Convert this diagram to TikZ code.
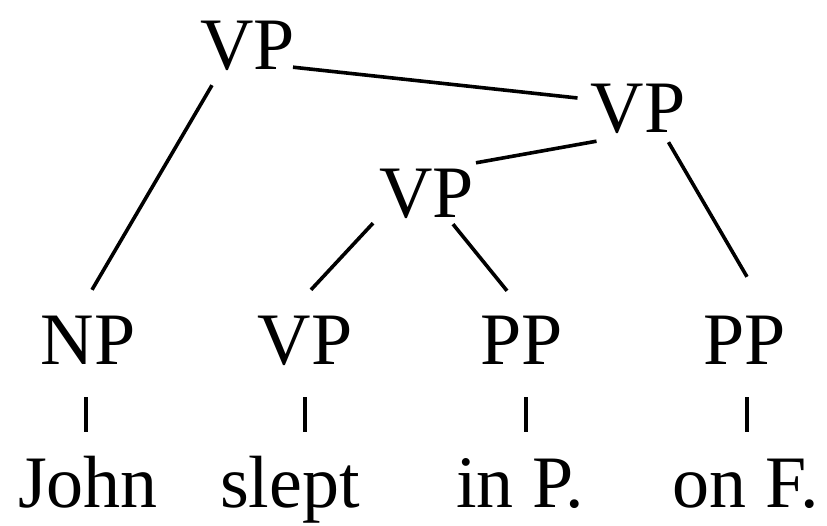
\documentclass[tikz,border=0pt]{standalone}
\usepackage{fontspec}
\setmainfont{Liberation Serif}
\usepackage{tikz}
\usetikzlibrary{positioning}

\begin{document}
\begin{tikzpicture}[
  x=1pt, y=1pt,
  cat/.style={inner sep=0pt, text height=48pt, text depth=0pt, anchor=base, font=\fontsize{74}{80}\selectfont},
  branch/.style={line width=3.6pt},
  tick/.style={line width=3.6pt, shorten <=32pt, shorten >=27pt}
]
\useasboundingbox (0,0) rectangle (827,525);
% inner nodes
\node[cat] (top) at (247.5,455) {VP};
\node[cat] (vpb) at (638,392) {VP};
\node[cat] (vpc) at (426.5,307) {VP};
% phrase level
\node[cat] (np)  at (88,160)  {NP};
\node[cat] (vpl) at (305,160) {VP};
\node[cat] (ppa) at (522,160) {PP};
\node[cat] (ppb) at (745,160) {PP};
% words
\node[cat] (john)  at (88,18)  {John};
\node[cat] (slept) at (290,18) {slept};
\node[cat] (inp)   at (520,18) {in P.};
\node[cat] (onf)   at (746,18) {on F.};
% branches
\draw[branch] ([xshift=-2pt,yshift=3pt]top.south east) -- ([xshift=-13pt,yshift=11pt]vpb.west);
\draw[branch] ([xshift=12pt,yshift=-15pt]top.south west) -- ([xshift=4pt,yshift=27pt]np.north);
\draw[branch] ([xshift=6pt,yshift=-8pt]vpb.south west) -- ([xshift=2pt,yshift=7pt]vpc.north east);
\draw[branch] ([xshift=-17pt,yshift=-9pt]vpb.south east) -- ([xshift=2pt,yshift=40pt]ppb.north);
\draw[branch] ([xshift=-6pt,yshift=-5pt]vpc.south west) -- ([xshift=6pt,yshift=27pt]vpl.north);
\draw[branch] ([xshift=-21pt,yshift=-6pt]vpc.south east) -- ([xshift=-15pt,yshift=26pt]ppa.north);
% ticks to the words
\draw[tick] ([xshift=-2pt]np.south) -- ([xshift=-2pt]np.south |- john.north);
\draw[tick] (vpl.south) -- (vpl.south |- slept.north);
\draw[tick] ([xshift=4pt]ppa.south) -- ([xshift=4pt]ppa.south |- inp.north);
\draw[tick] ([xshift=2pt]ppb.south) -- ([xshift=2pt]ppb.south |- onf.north);
\end{tikzpicture}
\end{document}
